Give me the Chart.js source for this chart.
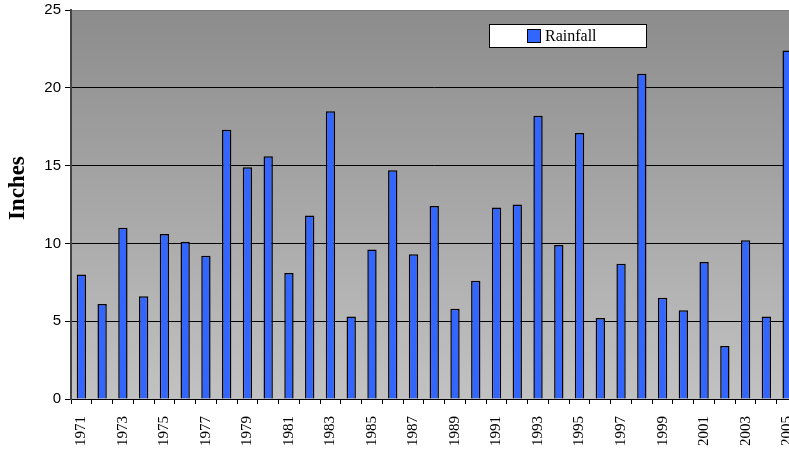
<!DOCTYPE html>
<html>
<head>
<meta charset="utf-8">
<script src="https://cdn.jsdelivr.net/npm/chart.js@4"></script>
<style>
  html, body { margin: 0; padding: 0; background: #fff; overflow: hidden; }
  canvas { display: block; }
</style>
</head>
<body>
<canvas id="chart" width="800" height="449"></canvas>
<script>
// Annual rainfall, 1971-2005 (inches)
const YEARS = [
  '1971','1972','1973','1974','1975','1976','1977','1978','1979','1980',
  '1981','1982','1983','1984','1985','1986','1987','1988','1989','1990',
  '1991','1992','1993','1994','1995','1996','1997','1998','1999','2000',
  '2001','2002','2003','2004','2005'
];
const RAINFALL = [
  8.0, 6.1, 11.0, 6.6, 10.6, 10.1, 9.2, 17.3, 14.9, 15.6,
  8.1, 11.8, 18.5, 5.3, 9.6, 14.7, 9.3, 12.4, 5.8, 7.6,
  12.3, 12.5, 18.2, 9.9, 17.1, 5.2, 8.7, 20.9, 6.5, 5.7,
  8.8, 3.4, 10.2, 5.3, 22.4
];
const Y_TICKS = [0, 5, 10, 15, 20, 25];
const Y_TITLE = 'Inches';

const BAR_FILL = '#3366ff';

// gray gradient behind the plot area
const plotBackground = {
  id: 'plotBackground',
  beforeDraw(chart) {
    const { ctx, chartArea: a } = chart;
    const g = ctx.createLinearGradient(0, a.top, 0, a.bottom);
    g.addColorStop(0, '#8c8c8c');
    g.addColorStop(1, '#c2c2c2');
    ctx.save();
    ctx.fillStyle = g;
    ctx.fillRect(a.left, a.top, a.right - a.left, a.bottom - a.top);
    ctx.restore();
  }
};

// y title sits a little above the axis middle in the original
const yTitle = {
  id: 'yTitle',
  afterDraw(chart) {
    const { ctx, chartArea: a } = chart;
    ctx.save();
    ctx.translate(18, a.top + (a.bottom - a.top) * 0.458);
    ctx.rotate(-Math.PI / 2);
    ctx.fillStyle = '#000';
    ctx.font = 'bold 23px "Liberation Serif", serif';
    ctx.textAlign = 'center';
    ctx.textBaseline = 'middle';
    ctx.fillText(Y_TITLE, 0, 0);
    ctx.restore();
  }
};

// boxed legend sitting inside the plot
const boxLegend = {
  id: 'boxLegend',
  afterDraw(chart) {
    const { ctx, chartArea: a } = chart;
    const x = a.left + 418, y = a.top + 14, w = 157, h = 23;
    ctx.save();
    ctx.fillStyle = '#fff';
    ctx.fillRect(x, y, w, h);
    ctx.strokeStyle = '#000';
    ctx.lineWidth = 1;
    ctx.strokeRect(x + 0.5, y + 0.5, w, h);
    ctx.fillStyle = BAR_FILL;
    ctx.fillRect(x + 39, y + 6, 12, 12);
    ctx.strokeRect(x + 38.5, y + 5.5, 13, 13);
    ctx.fillStyle = '#000';
    ctx.font = '16px "Liberation Serif", serif';
    ctx.textBaseline = 'middle';
    ctx.fillText(chart.data.datasets[0].label, x + 56, y + 12.5);
    ctx.restore();
  }
};

new Chart(document.getElementById('chart'), {
  type: 'bar',
  data: {
    labels: YEARS,
    datasets: [{
      label: 'Rainfall',
      data: RAINFALL,
      backgroundColor: BAR_FILL,
      borderColor: '#000',
      borderWidth: 1.5,
      categoryPercentage: 1,
      barPercentage: 0.45,
    }]
  },
  options: {
    responsive: false,
    animation: false,
    // canvas is wider than the window: the original is cropped on the right
    layout: { padding: { top: 10, right: 2.5, left: 0, bottom: 0 } },
    plugins: { legend: { display: false }, tooltip: { enabled: false } },
    scales: {
      x: {
        offset: true,
        afterFit: scale => { scale.height = 50; scale.paddingRight = 0; scale.paddingLeft = 0; },
        grid: { offset: true, drawOnChartArea: false, color: '#000', tickLength: 5 },
        border: { color: '#000', width: 1 },
        ticks: {
          autoSkip: false,
          minRotation: 90,
          maxRotation: 90,
          color: '#000',
          padding: 12,
          font: { family: '"Liberation Serif", serif', size: 15 },
          callback: (v, i) => (i % 2 === 0 ? YEARS[i] : '')
        }
      },
      y: {
        min: 0,
        max: 25,
        afterBuildTicks: axis => { axis.ticks = Y_TICKS.map(v => ({ value: v })); },
        afterFit: scale => { scale.width = 71; scale.paddingTop = 0; scale.paddingBottom = 0; },
        grid: {
          color: ctx => (ctx.tick && ctx.tick.value === 25 ? '#7a7a7a' : '#000'),
          tickLength: 6,
          tickColor: '#000'
        },
        border: { color: '#444', width: 2 },
        ticks: {
          color: '#000',
          padding: 4,
          font: { family: '"Liberation Sans", Arial, sans-serif', size: 15 }
        }
      }
    }
  },
  plugins: [plotBackground, yTitle, boxLegend]
});
</script>
</body>
</html>
